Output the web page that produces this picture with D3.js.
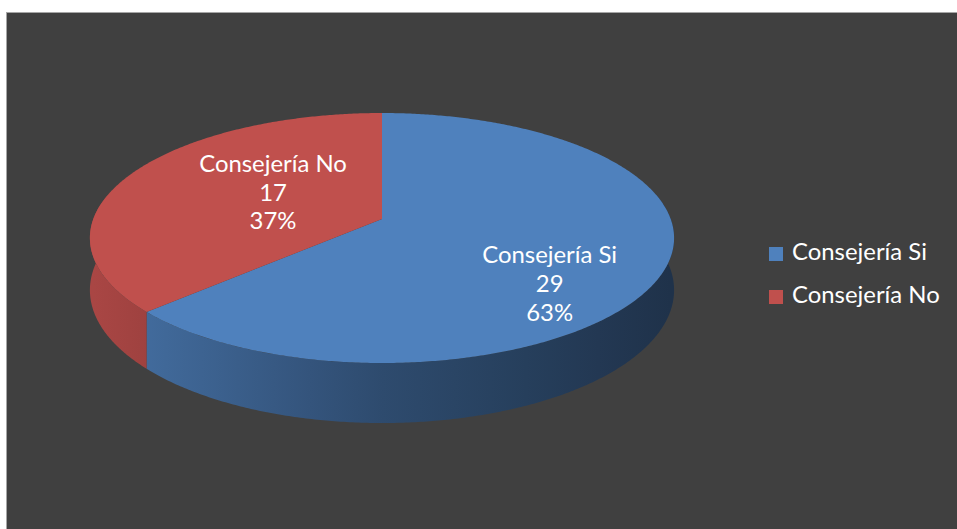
<!DOCTYPE html>
<html>
<head>
<meta charset="utf-8">
<script src="https://cdn.jsdelivr.net/npm/d3@7"></script>
<style>
  html, body { margin: 0; padding: 0; background: #ffffff; }
  svg { display: block; }
</style>
</head>
<body>
<script>
// Survey result: counselling received (Si) vs not received (No)
const categories = ["Consejería Si", "Consejería No"];
const counts = [29, 17];
const sliceColors = ["#4f81bd", "#c0504d"];

const W = 957, H = 529;
const FONT = "Lato, 'Open Sans', sans-serif";

const svg = d3.select("body").append("svg")
  .attr("width", W).attr("height", H);

// chart panel
svg.append("rect")
  .attr("x", 6.5).attr("y", 12.5)
  .attr("width", W).attr("height", H)
  .attr("fill", "#404040")
  .attr("stroke", "#a6a6a6").attr("stroke-width", 1);

// 3D pie geometry: a tilted disc seen in perspective
const cx = 382, cy = 219;      // projected centre of the top face
const A = 288.7, B = 122.1;    // horizontal / depth scale
const k = -0.152;              // perspective factor
const thickness = 50.9;        // wall height before perspective

// u: right, v: toward the viewer, both on the unit disc
function project(u, v, drop = 0) {
  const w = 1 + k * v;
  return [cx + A * u / w, cy + (B * v + drop) / w];
}
const rim = (a, r = 1, drop = 0) => project(r * Math.sin(a), -r * Math.cos(a), drop);

const total = d3.sum(counts);
const pie = d3.pie().sort(null).value(d => d.value);
const arcs = pie(categories.map((c, i) => ({ name: c, value: counts[i], color: sliceColors[i] })));

const defs = svg.append("defs");

// horizontal shading of the wall: lighter on the left, darker on the right
function shade(base, u) {
  const f = u < 0 ? 0.58 - 0.30 * u : 0.58 - 0.19 * u;
  const c = d3.rgb(base);
  return d3.rgb(c.r * f, c.g * f, c.b * f).formatHex();
}
arcs.forEach((d, i) => {
  const g = defs.append("linearGradient")
    .attr("id", "wall" + i)
    .attr("gradientUnits", "userSpaceOnUse")
    .attr("x1", cx - A).attr("x2", cx + A).attr("y1", 0).attr("y2", 0);
  d3.range(-1, 1.0001, 0.25).forEach(u => {
    g.append("stop")
      .attr("offset", (u + 1) / 2)
      .attr("stop-color", shade(d.data.color, u));
  });
});

const line = d3.line();
const STEP = Math.PI / 360;

// walls: only the part of each slice facing the viewer
const vMin = -0.2;
const aLo = Math.PI - Math.acos(vMin);            // right-hand limit
const aHi = Math.PI + Math.acos(vMin);            // left-hand limit
arcs.forEach((d, i) => {
  const a0 = Math.max(d.startAngle, aLo);
  const a1 = Math.min(d.endAngle, aHi);
  if (a1 <= a0) return;
  const angs = d3.range(a0, a1, STEP).concat([a1]);
  const pts = angs.map(a => rim(a))
    .concat(angs.slice().reverse().map(a => rim(a, 1, thickness)));
  svg.append("path")
    .attr("d", line(pts) + "Z")
    .attr("fill", `url(#wall${i})`);
});

// top faces
arcs.forEach(d => {
  const angs = d3.range(d.startAngle, d.endAngle, STEP).concat([d.endAngle]);
  const pts = [project(0, 0)].concat(angs.map(a => rim(a)));
  svg.append("path")
    .attr("d", line(pts) + "Z")
    .attr("fill", d.data.color);
});

// font size chosen so the labels keep their measured width
const probe = svg.append("text").attr("font-family", FONT).attr("font-size", 20)
  .text(categories[0]);
const fontSize = 20 * 135 / probe.node().getComputedTextLength();
probe.remove();

// data labels: name, count, percentage
const labelRadius = 0.55;
const labelNudge = [[17, 38], [32, 0]];
const lineGap = 28.7;
arcs.forEach((d, i) => {
  const mid = (d.startAngle + d.endAngle) / 2;
  const [x0, y0] = rim(mid, labelRadius);
  const x = x0 + labelNudge[i][0], y = y0 + labelNudge[i][1];
  const lines = [d.data.name, String(d.data.value), Math.round(d.data.value / total * 100) + "%"];
  const t = svg.append("text")
    .attr("font-family", FONT).attr("font-size", fontSize)
    .attr("fill", "#ffffff").attr("text-anchor", "middle");
  lines.forEach((s, j) => {
    t.append("tspan").attr("x", x).attr("y", y + 7.5 + (j - 1) * lineGap).text(s);
  });
});

// legend
const legend = svg.append("g").attr("transform", "translate(769,247)");
arcs.forEach((d, i) => {
  const row = legend.append("g").attr("transform", `translate(0,${i * 43})`);
  row.append("rect").attr("width", 14).attr("height", 14).attr("fill", d.data.color);
  row.append("text")
    .attr("x", 23).attr("y", 12.5)
    .attr("font-family", FONT).attr("font-size", fontSize)
    .attr("fill", "#ffffff")
    .text(d.data.name);
});
</script>
</body>
</html>
